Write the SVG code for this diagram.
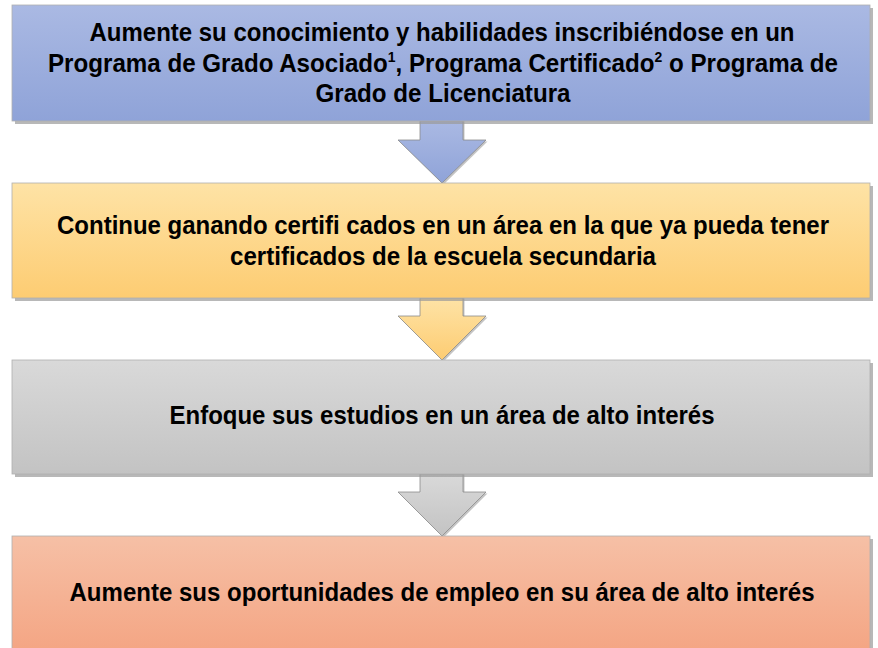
<svg xmlns="http://www.w3.org/2000/svg" width="878" height="648" viewBox="0 0 878 648">
<defs>
<linearGradient id="gBlue" x1="0" y1="0" x2="0" y2="1"><stop offset="0" stop-color="#aab9e3"/><stop offset="1" stop-color="#8fa3d8"/></linearGradient>
<linearGradient id="gYel" x1="0" y1="0" x2="0" y2="1"><stop offset="0" stop-color="#fee3a6"/><stop offset="1" stop-color="#fdcc72"/></linearGradient>
<linearGradient id="gGray" x1="0" y1="0" x2="0" y2="1"><stop offset="0" stop-color="#d9d9d9"/><stop offset="1" stop-color="#c3c3c3"/></linearGradient>
<linearGradient id="gOr" x1="0" y1="0" x2="0" y2="1"><stop offset="0" stop-color="#f6c0a6"/><stop offset="1" stop-color="#f4a482"/></linearGradient>
</defs>
<style>
.sh{fill:#9a9a9a;opacity:0.7}
.ash{fill:#8a8a8a;opacity:0.5}
.box{stroke:#b0b0b0;stroke-width:0.8}
.t{font-family:"Liberation Sans Narrow","Liberation Sans",Arial,sans-serif;font-weight:bold;font-size:26px;fill:#000;text-anchor:middle}
.sup{font-size:15px}
.arr{stroke:#8a8a8a;stroke-width:0.8}
</style>
<rect width="878" height="648" fill="#fff"/>
<g id="connectors">
<path class="ash" d="M421.5 121 H464.5 V141.5 H487.5 L443.5 184.5 L399.5 141.5 H421.5 Z"/>
<path class="arr" fill="url(#gBlue)" d="M420 121 H463 V140 H486 L442 183 L398 140 H420 Z"/>
<path class="ash" d="M421.5 298 H464.5 V317.5 H487.5 L443.5 361.5 L399.5 317.5 H421.5 Z"/>
<path class="arr" fill="url(#gYel)" d="M420 298 H463 V316 H486 L442 360 L398 316 H420 Z"/>
<path class="ash" d="M421.5 474 H464.5 V493.5 H487.5 L443.5 537.5 L399.5 493.5 H421.5 Z"/>
<path class="arr" fill="url(#gGray)" d="M420 474 H463 V492 H486 L442 536 L398 492 H420 Z"/>
</g>
<g id="node1">
<rect class="sh" x="15" y="8" width="858" height="116"/>
<rect class="box" x="12" y="5" width="858" height="116" fill="url(#gBlue)"/>
<text class="t" x="442" y="41" textLength="705" lengthAdjust="spacingAndGlyphs">Aumente su conocimiento y habilidades inscribiéndose en un</text>
<text class="t" x="443" y="72" textLength="790" lengthAdjust="spacingAndGlyphs">Programa de Grado Asociado<tspan class="sup" dy="-10">1</tspan><tspan dy="10">, Programa Certificado</tspan><tspan class="sup" dy="-10">2</tspan><tspan dy="10"> o Programa de</tspan></text>
<text class="t" x="443" y="102" textLength="255" lengthAdjust="spacingAndGlyphs">Grado de Licenciatura</text>
</g>
<g id="node2">
<rect class="sh" x="15" y="186" width="858" height="115"/>
<rect class="box" x="12" y="183" width="858" height="115" fill="url(#gYel)"/>
<text class="t" x="443" y="234" textLength="772" lengthAdjust="spacingAndGlyphs">Continue ganando certifi cados en un área en la que ya pueda tener</text>
<text class="t" x="443" y="265" textLength="426" lengthAdjust="spacingAndGlyphs">certificados de la escuela secundaria</text>
</g>
<g id="node3">
<rect class="sh" x="15" y="363" width="858" height="114"/>
<rect class="box" x="12" y="360" width="858" height="114" fill="url(#gGray)"/>
<text class="t" x="442" y="424" textLength="545" lengthAdjust="spacingAndGlyphs">Enfoque sus estudios en un área de alto interés</text>
</g>
<g id="node4">
<rect class="sh" x="15" y="539" width="858" height="120"/>
<rect class="box" x="12" y="536" width="858" height="120" fill="url(#gOr)"/>
<text class="t" x="442" y="601" textLength="745" lengthAdjust="spacingAndGlyphs">Aumente sus oportunidades de empleo en su área de alto interés</text>
</g>
</svg>
